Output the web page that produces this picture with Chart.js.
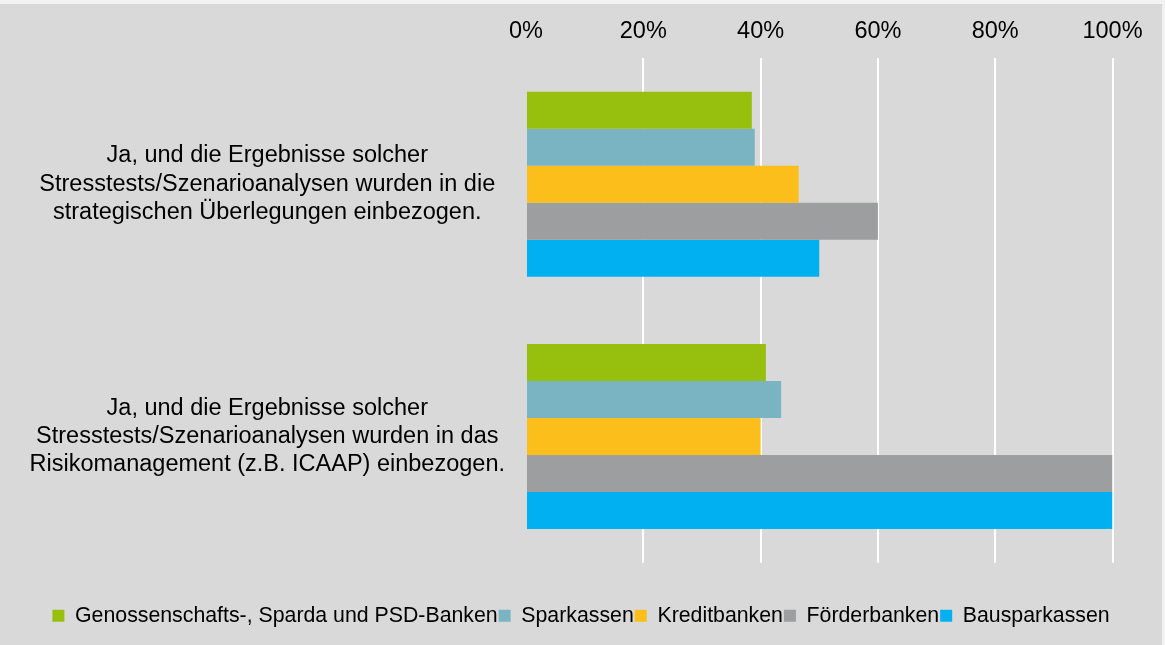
<!DOCTYPE html>
<html>
<head>
<meta charset="utf-8">
<script src="https://cdn.jsdelivr.net/npm/chart.js"></script>
<style>
  html, body { margin: 0; padding: 0; background: #f2f2f2; }
  .panel { position: absolute; left: 0; top: 4px; width: 1162px; height: 641px; background: #d9d9d9; }
</style>
</head>
<body>
<div class="panel"><canvas id="stressChart" width="1162" height="641"></canvas></div>
<script>
// categories (y axis, multi line)
const categories = [
    ["Ja, und die Ergebnisse solcher", "Stresstests/Szenarioanalysen wurden in die", "strategischen Überlegungen einbezogen."],
    ["Ja, und die Ergebnisse solcher", "Stresstests/Szenarioanalysen wurden in das", "Risikomanagement (z.B. ICAAP) einbezogen."]
];

const seriesNames = ["Genossenschafts-, Sparda und PSD-Banken", "Sparkassen", "Kreditbanken", "Förderbanken", "Bausparkassen"];
const seriesColors = ["#97bf0d", "#7ab4c3", "#fbbe1a", "#9d9ea0", "#00b0f0"];

// values in percent
const genoValues = [38.5, 40.9];
const sparkValues = [39.0, 43.5];
const kreditValues = [46.5, 40.0];
const foerderValues = [60, 100];
const bausparValues = [50, 100];

const xTicks = [0, 20, 40, 60, 80, 100];

const allValues = [genoValues, sparkValues, kreditValues, foerderValues, bausparValues];
const fontFamily = "'Liberation Sans', Arial, sans-serif";

// keep the legend centred on the whole canvas
const legendCenter = {
    id: "legendCenter",
    afterLayout(chart) {
        chart.legend.left = 0;
        chart.legend.right = chart.width;
        chart.legend.width = chart.width;
    }
};

const ctx = document.getElementById("stressChart");

new Chart(ctx, {
    type: "bar",
    data: {
        labels: categories,
        datasets: seriesNames.map((name, i) => ({
            label: name,
            data: allValues[i],
            backgroundColor: seriesColors[i],
            borderWidth: 0,
            barPercentage: 1,
            categoryPercentage: 0.733
        }))
    },
    plugins: [legendCenter],
    options: {
        indexAxis: "y",
        responsive: false,
        animation: false,
        layout: {
            padding: { left: 20, right: 49.5, top: 1.8, bottom: 8.5 }
        },
        scales: {
            x: {
                position: "top",
                min: 0,
                max: 100,
                afterBuildTicks: (axis) => {
                    axis.ticks = xTicks.map(v => ({ value: v }));
                },
                border: { display: false },
                grid: {
                    drawTicks: false,
                    lineWidth: 2,
                    color: (c) => c.index === 0 ? "rgba(0,0,0,0)" : "#ffffff"
                },
                ticks: {
                    padding: 12,
                    color: "#000000",
                    font: { family: fontFamily, size: 23.5 },
                    callback: (v) => v + "%"
                }
            },
            y: {
                afterFit: (axis) => {
                    axis.width = 506;
                    axis.paddingTop = 0;
                    axis.paddingBottom = 0;
                },
                border: { display: false },
                grid: { display: false },
                ticks: {
                    crossAlign: "center",
                    padding: 13,
                    color: "#000000",
                    font: { family: fontFamily, size: 23.5, lineHeight: 1.2 }
                }
            }
        },
        plugins: {
            legend: {
                position: "bottom",
                title: {
                    display: true,
                    text: "",
                    font: { size: 10, lineHeight: 1 },
                    padding: { top: 31.5, bottom: 0 }
                },
                labels: {
                    boxWidth: 12,
                    boxHeight: 12,
                    padding: 1,
                    color: "#000000",
                    font: { family: fontFamily, size: 21.3 }
                }
            },
            tooltip: { enabled: false }
        }
    }
});
</script>
</body>
</html>
